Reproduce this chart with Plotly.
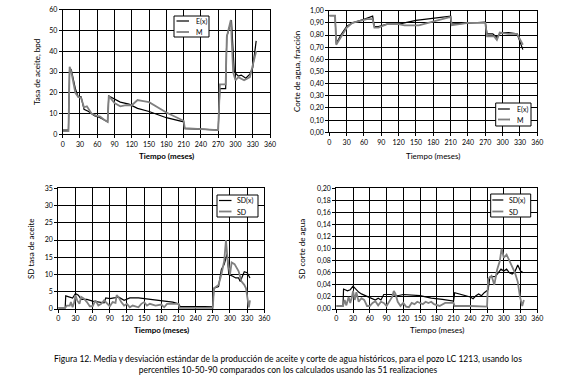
import plotly.graph_objects as go

# ---- Data: oil rate (bpd) ----
oil_ex_t = [0, 10, 12, 15, 22, 27, 32, 37, 45, 55, 65, 75, 78, 80, 90, 100, 115, 130, 150, 180, 210, 212, 240, 270, 273, 283, 285, 293, 298, 305, 310, 318, 325, 330, 336]
oil_ex_v = [2, 2, 32, 31, 22, 18, 18, 12, 11, 9, 8, 6.5, 6, 18.5, 17, 15.5, 14.5, 12.5, 11, 8, 6, 2.7, 2.5, 2, 22, 22, 47, 55, 30, 28, 28.5, 27, 29, 32, 45]
oil_m_t = [0, 10, 12, 15, 22, 27, 32, 37, 42, 50, 58, 65, 72, 78, 80, 90, 100, 110, 120, 130, 140, 150, 180, 200, 210, 212, 270, 273, 283, 285, 292, 296, 300, 305, 315, 325, 336]
oil_m_v = [1.5, 1.5, 32.5, 30, 20, 18, 17.5, 13, 13.5, 10, 9, 8.5, 7, 6, 18.5, 15, 13.5, 14, 14, 16.5, 16, 15.5, 10.5, 8, 6.5, 3, 2, 24, 24, 47, 55, 30, 26, 27.5, 26, 27.5, 40]

# ---- Data: water cut (fraction) ----
wc_ex_t = [0, 10, 12, 20, 30, 40, 60, 75, 78, 85, 100, 120, 150, 210, 212, 240, 270, 273, 283, 290, 297, 310, 325, 335]
wc_ex_v = [0.96, 0.96, 0.73, 0.80, 0.87, 0.90, 0.93, 0.955, 0.87, 0.87, 0.89, 0.89, 0.92, 0.955, 0.89, 0.90, 0.905, 0.81, 0.81, 0.78, 0.82, 0.82, 0.81, 0.68]
wc_m_t = [0, 10, 12, 20, 30, 40, 55, 65, 75, 78, 85, 100, 120, 130, 155, 180, 210, 212, 240, 270, 273, 285, 290, 295, 310, 325, 335]
wc_m_v = [0.96, 0.96, 0.72, 0.78, 0.86, 0.90, 0.92, 0.93, 0.93, 0.86, 0.86, 0.89, 0.89, 0.88, 0.88, 0.91, 0.95, 0.88, 0.90, 0.90, 0.79, 0.79, 0.76, 0.82, 0.81, 0.81, 0.72]

# ---- Data: SD oil rate ----
sdo_ex_t = [0, 12, 13, 20, 25, 30, 35, 40, 50, 60, 70, 80, 83, 90, 100, 105, 115, 125, 140, 160, 180, 200, 210, 213, 240, 270, 272, 280, 285, 290, 295, 298, 305, 310, 315, 318, 325, 330, 335]
sdo_ex_v = [0.3, 0.3, 3.8, 3.5, 3.2, 4.5, 4, 2.8, 2.8, 2.3, 2, 1.8, 3.2, 3, 3.3, 3.5, 2.5, 3.2, 3.2, 2.8, 2.5, 2, 1.5, 0.7, 0.7, 0.8, 6, 6.5, 11.5, 13, 16, 10, 9.5, 9, 9, 8, 10.8, 10.5, 9]
sdo_m_t = [0, 12, 15, 20, 22, 25, 28, 30, 33, 37, 40, 45, 50, 55, 60, 65, 70, 75, 80, 85, 90, 95, 100, 102, 105, 110, 115, 120, 125, 130, 140, 145, 150, 155, 160, 170, 180, 185, 190, 200, 210, 212, 230, 240, 250, 270, 272, 280, 285, 290, 293, 296, 300, 303, 308, 315, 320, 325, 328, 331, 333, 335]
sdo_m_v = [0.3, 0.3, 1, 1, 2, 0.5, 2, 4, 2.5, 1.5, 3.5, 3, 2, 0.8, 0.8, 2.5, 1, 1.5, 2.5, 1.5, 0.8, 2, 1.8, 4, 3.5, 2, 1, 1.5, 0.5, 1, 0.5, 1.5, 2, 1, 1.5, 1, 1.3, 0.5, 1.5, 1.5, 1.5, 0.3, 0.3, 0.5, 0.3, 0.3, 6, 7, 10, 14, 20, 14, 10, 13.5, 13, 11, 8, 7, 6, 2, 0.5, 2.5]

# ---- Data: SD water cut ----
sdw_ex_t = [0, 12, 13, 20, 25, 30, 35, 40, 45, 50, 60, 65, 70, 75, 80, 85, 100, 110, 120, 150, 170, 190, 200, 210, 212, 225, 240, 245, 250, 255, 260, 265, 272, 275, 285, 290, 295, 300, 305, 310, 315, 320, 325, 330, 335]
sdw_ex_v = [0.005, 0.005, 0.033, 0.030, 0.032, 0.038, 0.033, 0.028, 0.025, 0.023, 0.020, 0.017, 0.015, 0.018, 0.015, 0.024, 0.024, 0.022, 0.024, 0.022, 0.018, 0.016, 0.014, 0.013, 0.027, 0.024, 0.020, 0.017, 0.022, 0.025, 0.022, 0.027, 0.032, 0.053, 0.054, 0.060, 0.066, 0.063, 0.066, 0.060, 0.058, 0.062, 0.073, 0.063, 0.060]
sdw_m_t = [0, 12, 15, 18, 22, 25, 28, 30, 33, 36, 40, 45, 50, 55, 60, 65, 70, 75, 80, 85, 90, 95, 100, 103, 106, 110, 115, 120, 125, 130, 135, 140, 145, 150, 155, 160, 165, 170, 175, 185, 195, 210, 212, 240, 270, 272, 278, 283, 288, 293, 296, 300, 305, 310, 315, 320, 325, 329, 333, 336]
sdw_m_v = [0.005, 0.005, 0.015, 0.006, 0.020, 0.010, 0.020, 0.030, 0.015, 0.028, 0.012, 0.018, 0.015, 0.005, 0.005, 0.010, 0.013, 0.006, 0.012, 0.010, 0.005, 0.012, 0.020, 0.030, 0.025, 0.012, 0.005, 0.010, 0.004, 0.003, 0.010, 0.008, 0.012, 0.010, 0.008, 0.012, 0.010, 0.012, 0.008, 0.005, 0.010, 0.010, 0.005, 0.005, 0.004, 0.050, 0.055, 0.040, 0.065, 0.080, 0.100, 0.085, 0.090, 0.080, 0.070, 0.060, 0.045, 0.020, 0.005, 0.015]

x_ticks = list(range(0, 361, 30))

BLACK = "#000000"
GRAY = "#808080"
FONT = "Lato"
W_BLACK = 1.2
W_GRAY = 1.8

fig = go.Figure()

def add_pair(tb, vb, tg, vg, nb, ng, xa, ya):
    fig.add_trace(go.Scatter(x=tb, y=vb, mode="lines", name=nb, line=dict(color=BLACK, width=W_BLACK),
                             xaxis=xa, yaxis=ya, showlegend=False))
    fig.add_trace(go.Scatter(x=tg, y=vg, mode="lines", name=ng, line=dict(color=GRAY, width=W_GRAY),
                             xaxis=xa, yaxis=ya, showlegend=False))

add_pair(oil_ex_t, oil_ex_v, oil_m_t, oil_m_v, "E(x)", "M", "x", "y")
add_pair(wc_ex_t, wc_ex_v, wc_m_t, wc_m_v, "E(x)", "M", "x2", "y2")
add_pair(sdo_ex_t, sdo_ex_v, sdo_m_t, sdo_m_v, "SD(x)", "SD", "x3", "y3")
add_pair(sdw_ex_t, sdw_ex_v, sdw_m_t, sdw_m_v, "SD(x)", "SD", "x4", "y4")

W, H = 575, 382
def px_x(p):
    return p / W
def px_y(p):
    return 1 - p / H

common_x = dict(range=[0, 360], tickvals=x_ticks, showgrid=True, gridcolor=BLACK, gridwidth=1,
                showline=True, linecolor=BLACK, linewidth=1, mirror=True, ticks="outside",
                ticklen=3, tickcolor=BLACK, zeroline=False, automargin=False,
                tickfont=dict(family=FONT, size=7, color=BLACK))
common_y = dict(showgrid=True, gridcolor=BLACK, gridwidth=1, showline=True, linecolor=BLACK,
                linewidth=1, mirror=True, ticks="outside", ticklen=3, tickcolor=BLACK,
                zeroline=False, automargin=False, tickfont=dict(family=FONT, size=7, color=BLACK))

dom = {
    1: ([px_x(62.7), px_x(270)], [px_y(134.3), px_y(9.7)]),
    2: ([px_x(329.3), px_x(537.3)], [px_y(132.3), px_y(10.7)]),
    3: ([px_x(58.3), px_x(264.3)], [px_y(309), px_y(188.3)]),
    4: ([px_x(336.3), px_x(537.3)], [px_y(309), px_y(188.3)]),
}

fig.update_layout(
    xaxis=dict(domain=dom[1][0], anchor="y", **common_x),
    yaxis=dict(domain=dom[1][1], anchor="x", range=[0, 60], dtick=10, **common_y),
    xaxis2=dict(domain=dom[2][0], anchor="y2", **common_x),
    yaxis2=dict(domain=dom[2][1], anchor="x2", range=[0, 1.0], dtick=0.1, tickformat=".2f", **common_y),
    xaxis3=dict(domain=dom[3][0], anchor="y3", **common_x),
    yaxis3=dict(domain=dom[3][1], anchor="x3", range=[0, 35], dtick=5, **common_y),
    xaxis4=dict(domain=dom[4][0], anchor="y4", **common_x),
    yaxis4=dict(domain=dom[4][1], anchor="x4", range=[0, 0.20], dtick=0.02, tickformat=".2f", **common_y),
)

shapes = []
annotations = []

# manual legends: (box x0, x1, y0, y1, line x0, x1, text x, row y's, labels)
legends = [
    (174, 209, 16, 37, 176.5, 189, 194, (21, 32), ("E(x)", "M")),
    (495.7, 531, 103, 126, 498, 510, 515, (109, 119.5), ("E(x)", "M")),
    (217, 258, 195, 217, 219, 231.5, 235, (200.5, 211.5), ("SD(x)", "SD")),
    (490.7, 530.7, 194, 217, 492.3, 503.3, 507, (200, 211.5), ("SD(x)", "SD")),
]
for bx0, bx1, by0, by1, lx0, lx1, tx, rows, labels in legends:
    shapes.append(dict(type="rect", xref="paper", yref="paper", x0=px_x(bx0), x1=px_x(bx1),
                       y0=px_y(by1), y1=px_y(by0), line=dict(color=BLACK, width=1), fillcolor="white",
                       layer="above"))
    for ry, lab, col, wd in zip(rows, labels, (BLACK, GRAY), (W_BLACK, W_GRAY)):
        shapes.append(dict(type="line", xref="paper", yref="paper", x0=px_x(lx0), x1=px_x(lx1),
                           y0=px_y(ry), y1=px_y(ry), line=dict(color=col, width=wd), layer="above"))
        annotations.append(dict(text=lab, x=px_x(tx), y=px_y(ry), xref="paper", yref="paper",
                                xanchor="left", yanchor="middle", showarrow=False,
                                font=dict(family=FONT, size=7, color=BLACK)))

def title_x(cx, cy, text):
    annotations.append(dict(text=text, x=px_x(cx), y=px_y(cy), xref="paper", yref="paper",
                            xanchor="center", yanchor="middle",
                            showarrow=False, font=dict(family=FONT, size=8, color=BLACK)))
def title_y(cx, cy, text):
    annotations.append(dict(text=text, x=px_x(cx), y=px_y(cy), xref="paper", yref="paper",
                            xanchor="center", yanchor="middle",
                            showarrow=False, textangle=-90, font=dict(family=FONT, size=8, color=BLACK)))

title_x(166, 155.5, "<b>Tiempo (meses)</b>")
title_x(433, 155.5, "Tiempo (meses)")
title_x(161, 329.5, "<b>Tiempo (meses)</b>")
title_x(437, 329.5, "Tiempo (meses)")
title_y(37, 72, "Tasa de aceite, bpd")
title_y(297, 72, "Corte de agua, fracción")
title_y(31, 249, "SD tasa de aceite")
title_y(302, 249, "SD corte de agua")

annotations.append(dict(
    text="Figura 12. Media y desviación estándar de la producción de aceite y corte de agua históricos, para el pozo LC 1213, usando los<br>percentiles 10-50-90 comparados con los calculados usando las 51 realizaciones",
    x=px_x(287.5), y=px_y(364), xref="paper", yref="paper", showarrow=False, align="center",
    xanchor="center", yanchor="middle",
    font=dict(family=FONT, size=8.5, color=BLACK)))

fig.update_layout(
    width=W, height=H, margin=dict(l=0, r=0, t=0, b=0, autoexpand=False),
    paper_bgcolor="white", plot_bgcolor="white",
    separators=",.", annotations=annotations, shapes=shapes, showlegend=False,
)

fig.write_html("out.html", config={"displayModeBar": False},
               post_script="document.body.style.margin='0';")
